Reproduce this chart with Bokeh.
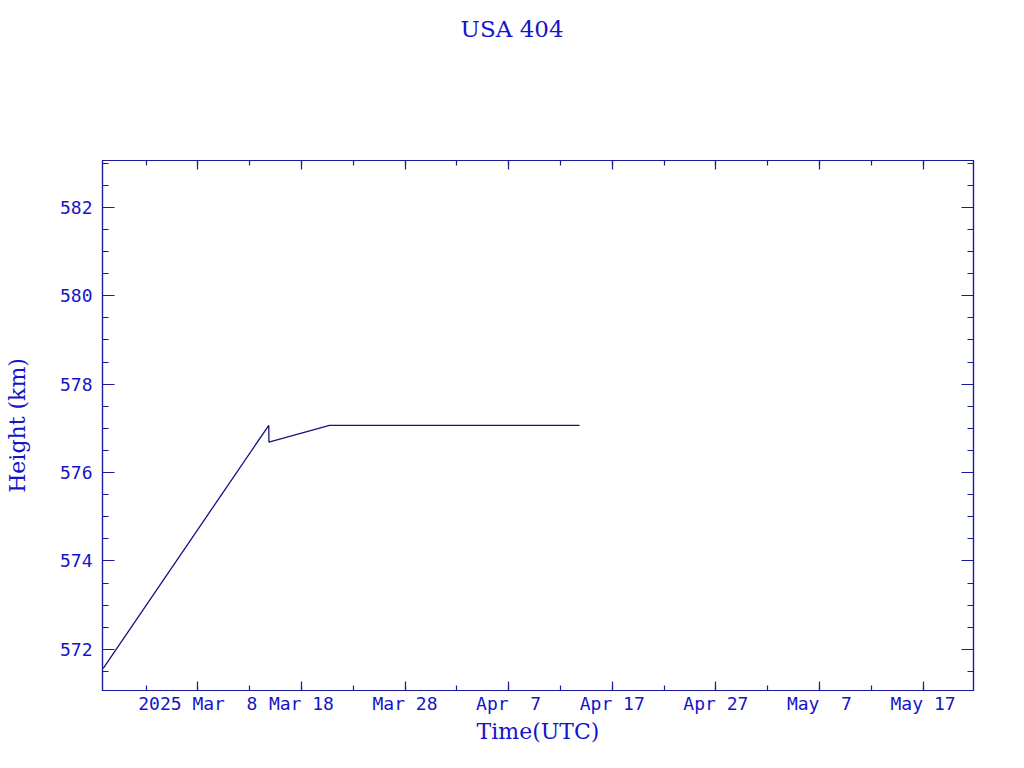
from datetime import datetime
from bokeh.plotting import figure
from bokeh.layouts import column
from bokeh.models import LinearAxis, FixedTicker, Range1d, Label, ColumnDataSource
from bokeh.embed import file_html
from bokeh.resources import INLINE

# ---------------- data ----------------
times = ["2025-02-26 20:53", "2025-03-14 20:24", "2025-03-14 20:40",
         "2025-03-20 17:02", "2025-04-13 20:10"]
heights = [571.57, 577.07, 576.69, 577.07, 577.07]

x_tick_dates = ["2025-03-08", "2025-03-18", "2025-03-28", "2025-04-07",
                "2025-04-17", "2025-04-27", "2025-05-07", "2025-05-17"]
x_tick_labels = ["2025 Mar \u00a08", "Mar 18", "Mar 28", "Apr \u00a07",
                 "Apr 17", "Apr 27", "May \u00a07", "May 17"]
y_ticks = [572, 574, 576, 578, 580, 582]
y_minor = [571.5 + 0.5 * i for i in range(24)]

title_text = "USA 404"
x_label = "Time(UTC)"
y_label = "Height (km)"

# ---------------- helpers ----------------
EPOCH = datetime(1970, 1, 1)
def ms(s):
    fmt = "%Y-%m-%d %H:%M" if " " in s else "%Y-%m-%d"
    return (datetime.strptime(s, fmt) - EPOCH).total_seconds() * 1000.0

xs = [ms(t) for t in times]
x_ticks = [ms(d) for d in x_tick_dates]
DAY = 86400000.0
x_minor = [x_ticks[0] - 10 * DAY + 5 * DAY * i for i in range(18)]

x0 = x_ticks[0] - 9.2 * DAY
x1 = x_ticks[0] + 74.87 * DAY
y0, y1 = 571.07, 583.06

TEXT = "#1414c8"
FRAME = "#1a1a9a"
LINE = "#14147e"

W = 1008
TITLE_H = 60

# ---------------- title strip ----------------
t = figure(width=W, height=TITLE_H, output_backend="svg", toolbar_location=None,
           x_axis_type=None, y_axis_type=None,
           x_range=Range1d(0, W), y_range=Range1d(0, TITLE_H),
           min_border=0)
t.grid.visible = False
t.outline_line_color = None
t.add_layout(Label(x=474, y=32, text=title_text,
                   text_align="center", text_baseline="alphabetic",
                   text_color=TEXT, text_font="DejaVu Serif",
                   text_font_size="23px"))

# ---------------- main plot ----------------
p = figure(width=W, height=752 - TITLE_H, output_backend="svg", toolbar_location=None,
           x_axis_type=None, y_axis_type=None,
           x_range=Range1d(x0, x1), y_range=Range1d(y0, y1),
           min_border_left=102, min_border_right=W - 973,
           min_border_top=160 - TITLE_H, min_border_bottom=62)
p.grid.visible = False
p.outline_line_color = FRAME
p.outline_line_width = 1.2

src = ColumnDataSource(dict(x=xs, y=heights))
p.line("x", "y", source=src, line_color=LINE, line_width=1.3)

def style(ax, major_len, minor_len, labels=True):
    ax.axis_line_color = FRAME
    ax.axis_line_width = 1.2
    ax.major_tick_line_color = FRAME
    ax.minor_tick_line_color = FRAME
    ax.major_tick_line_width = 1.2
    ax.minor_tick_line_width = 1.2
    ax.major_tick_in = major_len
    ax.major_tick_out = 0
    ax.minor_tick_in = minor_len
    ax.minor_tick_out = 0
    ax.major_label_text_font = "DejaVu Sans Mono"
    ax.major_label_text_font_size = "18px"
    ax.major_label_text_color = TEXT if labels else None
    if not labels:
        ax.major_label_standoff = 0
    ax.axis_label_text_color = TEXT
    ax.axis_label_text_font = "DejaVu Serif"
    ax.axis_label_text_font_size = "22px"
    ax.axis_label_text_font_style = "normal"

xt = FixedTicker(ticks=x_ticks, minor_ticks=x_minor)
yt = FixedTicker(ticks=y_ticks, minor_ticks=y_minor)
overrides = {x: l for x, l in zip(x_ticks, x_tick_labels)}

xb = LinearAxis(ticker=xt, axis_label=x_label, major_label_overrides=overrides)
style(xb, 9, 5)
xb.major_label_standoff = 2
xb.axis_label_standoff = 2
p.add_layout(xb, "below")

xa = LinearAxis(ticker=xt)
style(xa, 9, 5, labels=False)
p.add_layout(xa, "above")

yl = LinearAxis(ticker=yt, axis_label=y_label)
style(yl, 12, 6)
yl.major_label_standoff = 10
yl.axis_label_standoff = 27
p.add_layout(yl, "left")

yr = LinearAxis(ticker=yt)
style(yr, 12, 6, labels=False)
p.add_layout(yr, "right")

layout = column(t, p, spacing=0)
open("out.html", "w").write(file_html(layout, INLINE))
